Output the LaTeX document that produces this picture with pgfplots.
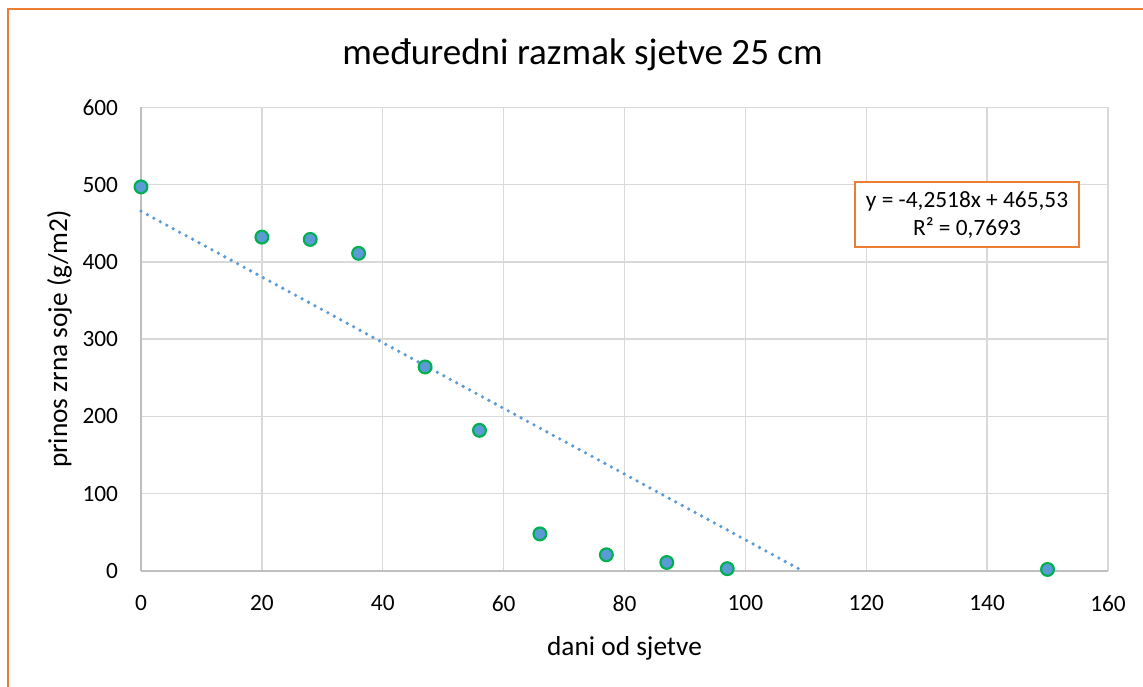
\documentclass[border=0pt]{standalone}
\usepackage{pgfplots}
\pgfplotsset{compat=1.18}
\usepackage{fontspec}
\setmainfont{Carlito}
\definecolor{ptfill}{HTML}{5B9BD5}
\definecolor{ptedge}{HTML}{00B050}
\definecolor{orng}{HTML}{ED7D31}
\definecolor{gridc}{HTML}{D9D9D9}
\definecolor{axl}{HTML}{BFBFBF}
\begin{document}
\begin{tikzpicture}
\useasboundingbox (0,0) rectangle (857.25pt,514.5pt);
\fill[white] (0,0) rectangle (857.25pt,514.5pt);
\begin{axis}[
  at={(105.75pt,86.25pt)}, anchor=south west,
  scale only axis, width=725.25pt, height=347.8pt,
  xmin=0, xmax=160, ymin=0, ymax=600,
  xtick={0,20,...,160}, ytick={0,100,...,600},
  grid=major, major grid style={draw=gridc, line width=1.1pt},
  axis x line*=bottom, axis y line*=left,
  axis line style={draw=axl, line width=1.1pt, -},
  major tick length=0pt, tick style={draw=none},
  ticklabel style={font=\fontsize{17.5}{20}\selectfont, inner sep=0pt, text=black},
  xticklabel shift=18pt, yticklabel shift=17pt,
  /pgf/number format/assume math mode=true,
  clip=false,
]
\addplot[only marks, mark=*, mark size=4.8pt, mark options={draw=ptedge, fill=ptfill, line width=1.6pt}]
  coordinates {(0,497) (20,432) (28,429) (36,411) (47,264) (56,182) (66,48) (77,21) (87,11) (97,3) (150,2)};
\addplot[ptfill, line width=2.7pt, line cap=round, dash pattern=on 0pt off 5.5pt]
  coordinates {(0,465.53) (109.49,0)};
\end{axis}
\begin{scope}[shift={(0pt,514.5pt)}, x=0.75pt, y=-0.75pt]
\draw[orng, line width=1.2pt] (8,9) rectangle (1200,720);
\node[font=\fontsize{27.8}{32}\selectfont, anchor=base, inner sep=0pt] at (582.5,65) {međuredni razmak sjetve 25 cm};
\node[font=\fontsize{20.5}{24}\selectfont, anchor=base, inner sep=0pt] at (624.5,655) {dani od sjetve};
\node[font=\fontsize{20.5}{24}\selectfont, rotate=90, anchor=base, inner sep=0pt] at (67,339) {prinos zrna soje (g/m2)};
\draw[orng, line width=1.6pt, fill=white] (855,182) rectangle (1079,247);
\node[font=\fontsize{17.5}{20}\selectfont, anchor=base, inner sep=0pt] at (967,207.3) {y = -4,2518x + 465,53};
\node[font=\fontsize{17.5}{20}\selectfont, anchor=base, inner sep=0pt] at (967,235.3) {R² = 0,7693};
\end{scope}
\end{tikzpicture}
\end{document}
